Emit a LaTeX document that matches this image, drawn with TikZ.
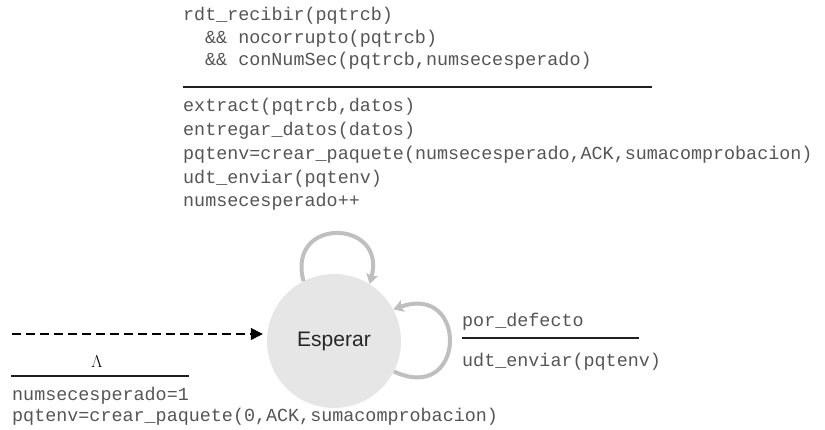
\documentclass[tikz,border=0pt]{standalone}
\usepackage{fontspec}
\setmonofont{Liberation Mono}
\setsansfont{Liberation Sans}
\usetikzlibrary{positioning,arrows.meta}
\definecolor{fsmtext}{RGB}{85,85,85}
\definecolor{fsmrule}{RGB}{35,31,32}
\definecolor{fsmstate}{RGB}{230,230,231}
\definecolor{fsmloop}{RGB}{190,191,193}

\begin{document}
\begin{tikzpicture}[x=1pt,y=1pt,
    code/.style={font=\ttfamily\fontsize{18.4}{22}\selectfont,text=fsmtext,inner sep=0pt,anchor=base west},
    rule/.style={draw=fsmrule,line width=2.6pt},
    state/.style={circle,fill=fsmstate,minimum size=134pt,inner sep=0pt,font=\sffamily\fontsize{21}{25}\selectfont,text=black!85},
    selfloop/.style={draw=fsmloop,line width=4pt,-{Stealth[length=10pt,width=12pt,inset=2pt]}},
    initarrow/.style={draw=black,line width=1.4pt,dash pattern=on 9pt off 5pt,-{Triangle[length=12pt,width=12pt]}}]
    \useasboundingbox (0,0) rectangle (825,429);
    % estado
    \node[state] (esperar) at (334,88) {Esperar};
    % transicion de arriba
    \node[code] (g1) at (183,408) {rdt\_recibir(pqtrcb)};
    \node[code] (g2) at (205,385) {\&\& nocorrupto(pqtrcb)};
    \node[code] (g3) at (205,363) {\&\& conNumSec(pqtrcb,numsecesperado)};
    \draw[rule] (183,342) -- (652,342);
    \node[code] (a1) at (183,317) {extract(pqtrcb,datos)};
    \node[code] (a2) at (183,293) {entregar\_datos(datos)};
    \node[code] (a3) at (183,269) {pqtenv=crear\_paquete(numsecesperado,ACK,sumacomprobacion)};
    \node[code] (a4) at (183,245) {udt\_enviar(pqtenv)};
    \node[code] (a5) at (183,222) {numsecesperado++};
    \draw[selfloop] (esperar.117) to[out=105,in=75,looseness=2.6] (esperar.58);
    % transicion por defecto
    \draw[selfloop] (esperar.-27) to[out=-25,in=20,looseness=3.3] (esperar.28);
    \node[code] (d1) at (462,103) {por\_defecto};
    \draw[rule] (462,91) -- (639,91);
    \node[code] (d2) at (462,63) {udt\_enviar(pqtenv)};
    % estado inicial
    \coordinate (ini) at (12,95);
    \draw[initarrow] (ini) -- ([xshift=-4pt]esperar.west |- ini);
    \node (lambda) at (97,67) {\fontsize{17}{20}\selectfont$\Lambda$};
    \draw[rule] (11,53) -- (189,53);
    \node[code] (i1) at (12,29) {numsecesperado=1};
    \node[code] (i2) at (12,8) {pqtenv=crear\_paquete(0,ACK,sumacomprobacion)};
\end{tikzpicture}
\end{document}
